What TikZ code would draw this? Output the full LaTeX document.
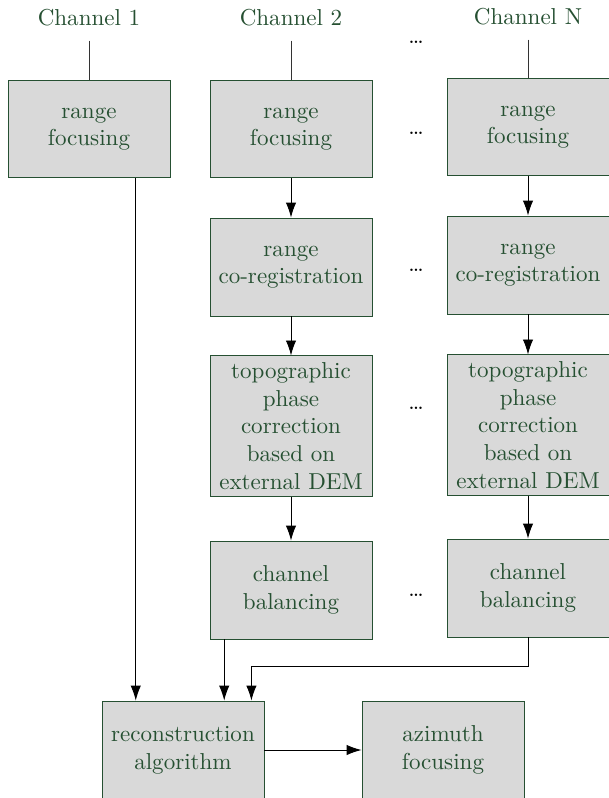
\documentclass[tikz,border=0pt]{standalone}
\usetikzlibrary{arrows.meta,calc}
\definecolor{boxgreen}{RGB}{38,80,50}
\definecolor{boxgray}{RGB}{217,217,217}
\begin{document}
\begin{tikzpicture}[x=0.434pt,y=-0.434pt,
	block/.style={draw=boxgreen,fill=boxgray,text=boxgreen,align=center,
		minimum width=70.3pt,minimum height=42.5pt,inner sep=0pt},
	tallblock/.style={block,minimum height=60.8pt},
	chan/.style={text=boxgreen,inner sep=0pt},
	dots/.style={inner sep=0pt},
	flow/.style={black,line width=0.4pt,-{Latex[length=6.5pt,width=4.5pt]}},
	link/.style={black!80,line width=0.4pt}]
	\useasboundingbox (0,0) rectangle (608,798);
	% channel labels
	\node[chan] (ch1) at (89,18) {Channel 1};
	\node[chan] (ch2) at (291,18) {Channel 2};
	\node[chan] (chN) at (528,17) {Channel N};
	% processing blocks
	\node[block] (rf1) at (89,129) {range\\focusing};
	\node[block] (rf2) at (291,129) {range\\focusing};
	\node[block] (rfN) at (528,127) {range\\focusing};
	\node[block] (rc2) at (291,267) {range\\co-registration};
	\node[block] (rcN) at (528,265) {range\\co-registration};
	\node[tallblock] (tp2) at (291,426) {topographic\\phase\\correction\\based on\\external DEM};
	\node[tallblock] (tpN) at (528,425) {topographic\\phase\\correction\\based on\\external DEM};
	\node[block] (cb2) at (291,590) {channel\\balancing};
	\node[block] (cbN) at (528,588) {channel\\balancing};
	\node[block] (rec) at (183,750) {reconstruction\\algorithm};
	\node[block] (az) at (443,750) {azimuth\\focusing};
	% dots between channels
	\node[dots] (d0) at (416,42) {\dots};
	\node[dots] (d1) at (416,133) {\dots};
	\node[dots] (d2) at (416,270) {\dots};
	\node[dots] (d3) at (416,408) {\dots};
	\node[dots] (d4) at (416,595) {\dots};
	% inputs of the reconstruction
	\coordinate (in1) at ($(rec.north west)!0.21!(rec.north east)$);
	\coordinate (in2) at ($(rec.north west)!0.753!(rec.north east)$);
	\coordinate (in3) at ($(rec.north west)!0.92!(rec.north east)$);
	% connectors
	\draw[link] ([yshift=-6pt]ch1.south) -- (rf1);
	\draw[link] ([yshift=-6pt]ch2.south) -- (rf2);
	\draw[link] ([yshift=-6pt]chN.south) -- (rfN);
	\draw[flow] (rf2) -- (rc2);
	\draw[flow] (rc2) -- (tp2);
	\draw[flow] (tp2) -- (cb2);
	\draw[flow] (rfN) -- (rcN);
	\draw[flow] (rcN) -- (tpN);
	\draw[flow] (tpN) -- (cbN);
	\draw[flow] (rf1.south -| in1) -- (in1);
	\draw[flow] (cb2.south -| in2) -- (in2);
	\draw[flow] (cbN.south) -- (528,666) -| (in3);
	\draw[flow] (rec) -- (az);
\end{tikzpicture}
\end{document}
